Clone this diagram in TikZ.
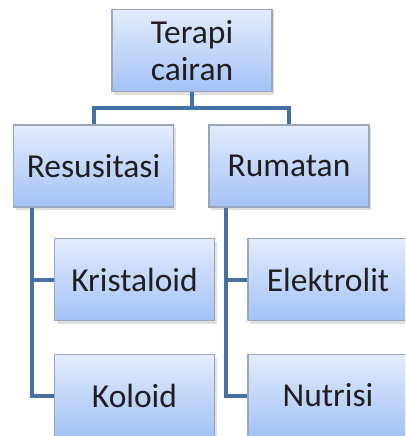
\documentclass[tikz,border=0pt]{standalone}
\usepackage{fontspec}
\setmainfont{Carlito}
\usetikzlibrary{shadows}

\definecolor{boxtop}{HTML}{E2ECFD}
\definecolor{boxbottom}{HTML}{A4C2F6}
\definecolor{boxline}{HTML}{9AA6BC}
\definecolor{linkblue}{HTML}{4470A4}

\begin{document}
\begin{tikzpicture}[x=1pt, y=-1pt,
    box/.style={rectangle, draw=boxline, line width=1.6pt, top color=boxtop, bottom color=boxbottom,
        minimum width=160pt, minimum height=82pt, inner sep=0pt, text=black!88,
        font=\fontsize{33.5}{37}\selectfont, align=center,
        drop shadow={opacity=0.25, shadow xshift=2pt, shadow yshift=-3pt}},
    link/.style={draw=linkblue, line width=4pt}]
    \useasboundingbox (0,0) rectangle (405,436);
    \clip (0,0) rectangle (405,436);

    \node[box] (terapi) at (192, 50.5) {Terapi\\cairan};
    \node[box] (resusitasi) at (93.5, 166) {Resusitasi};
    \node[box] (rumatan) at (289, 166) {Rumatan};
    \node[box] (kristaloid) at (134.5, 279.5) {Kristaloid};
    \node[box] (koloid) at (134.5, 395.5) {Koloid};
    \node[box] (elektrolit) at (328, 279.5) {Elektrolit};
    \node[box] (nutrisi) at (328, 395.5) {Nutrisi};

    \draw[link] (terapi.south) -- ++(0,16) -| (resusitasi.north);
    \draw[link] (terapi.south) -- ++(0,16) -| (rumatan.north);
    \draw[link] ([xshift=19pt]resusitasi.south west) |- (kristaloid.west);
    \draw[link] ([xshift=19pt]resusitasi.south west) |- (koloid.west);
    \draw[link] ([xshift=18pt]rumatan.south west) |- (elektrolit.west);
    \draw[link] ([xshift=18pt]rumatan.south west) |- (nutrisi.west);
\end{tikzpicture}
\end{document}
